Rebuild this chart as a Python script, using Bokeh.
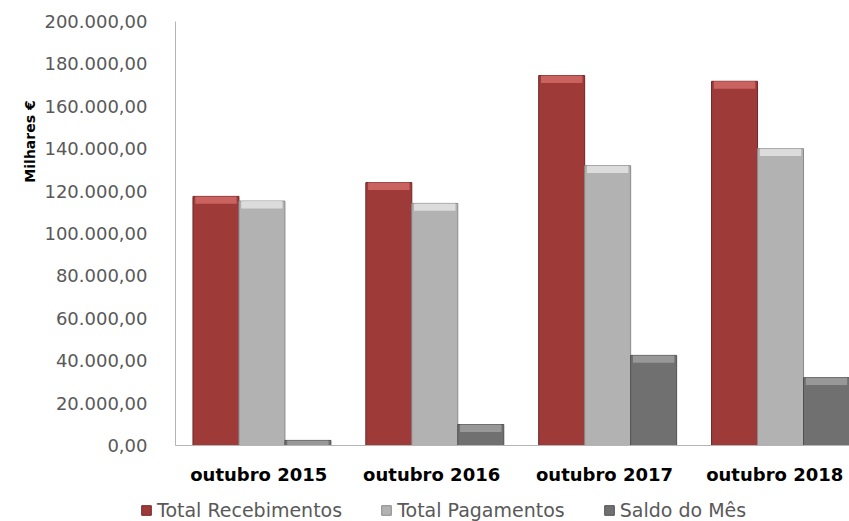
import numpy as np
from bokeh.plotting import figure
from bokeh.models import Range1d, FixedTicker, Legend, LegendItem, Label, ColumnDataSource
from bokeh.embed import file_html
from bokeh.resources import INLINE

# ---- data ----
categories = ["outubro  2015", "outubro  2016", "outubro  2017", "outubro  2018"]
series_names = ["Total Recebimentos", "Total Pagamentos", "Saldo do Mês"]
recebimentos = [117500, 124000, 174500, 171800]
pagamentos = [115300, 114200, 132000, 140000]
saldo = [2400, 9900, 42500, 32000]
y_ticks = [0, 20000, 40000, 60000, 80000, 100000, 120000, 140000, 160000, 180000, 200000]
y_label = "Milhares €"

# ---- layout (pixels) ----
W, H = 849, 521
AX_LEFT, AX_TOP, AX_BOTTOM, AX_RIGHT = 175, 21, 445, 849
Y_MIN, Y_MAX = 0, 200000
X_MIN, X_MAX = -0.5, 3.399

# extend the frame over the whole canvas so labels / legend are not clipped
px_per_x = (AX_RIGHT - AX_LEFT) / (X_MAX - X_MIN)
px_per_y = (AX_BOTTOM - AX_TOP) / (Y_MAX - Y_MIN)
x_start = X_MIN - AX_LEFT / px_per_x
x_end = X_MAX + (W - AX_RIGHT) / px_per_x
y_end = Y_MAX + AX_TOP / px_per_y
y_start = Y_MIN - (H - AX_BOTTOM) / px_per_y

# ---- styles ----
FONT = "DejaVu Sans"
body_colors = ["#9E3B39", "#B2B2B2", "#707070"]
edge_colors = ["#6E2725", "#8A8A8A", "#505050"]
top_colors = ["#D8706E", "#E9E9E9", "#A6A6A6"]
offsets = [-0.266, 0.0, 0.266]
bar_w = 0.266


def fmt_pt(v):
    s = f"{v:,.2f}"
    return s.replace(",", "X").replace(".", ",").replace("X", ".")


p = figure(width=W, height=H, output_backend="svg", toolbar_location=None,
           x_range=Range1d(x_start, x_end), y_range=Range1d(y_start, y_end),
           min_border=0)
p.outline_line_color = None
p.xgrid.grid_line_color = None
p.ygrid.grid_line_color = None
p.background_fill_color = "white"

idx = np.arange(len(categories))
renderers = []
for k, vals in enumerate([recebimentos, pagamentos, saldo]):
    vals = np.array(vals, dtype=float)
    src = ColumnDataSource(dict(x=idx + offsets[k], top=vals,
                                hl=np.maximum(vals - 3500, 0)))
    r = p.vbar(x="x", top="top", bottom=0, width=bar_w, source=src,
               fill_color=body_colors[k], line_color=edge_colors[k], line_width=1)
    p.vbar(x="x", top="top", bottom="hl", width=bar_w * 0.9, source=src,
           fill_color=top_colors[k], fill_alpha=0.75, line_color=None)
    renderers.append(r)

# y axis
p.yaxis.fixed_location = X_MIN
p.yaxis.bounds = (Y_MIN, Y_MAX)
p.yaxis.ticker = FixedTicker(ticks=y_ticks)
p.yaxis.major_label_overrides = {t: fmt_pt(t) for t in y_ticks}
p.yaxis.major_tick_line_color = None
p.yaxis.minor_tick_line_color = None
p.yaxis.axis_line_color = "#B5B5B5"
p.yaxis.major_label_standoff = 22
p.yaxis.major_label_text_font = FONT
p.yaxis.major_label_text_font_size = "18px"
p.yaxis.major_label_text_color = "#595959"

# x axis
p.xaxis.fixed_location = Y_MIN
p.xaxis.bounds = (X_MIN, X_MAX)
p.xaxis.ticker = FixedTicker(ticks=list(idx))
p.xaxis.major_label_overrides = {int(i): c for i, c in zip(idx, categories)}
p.xaxis.major_tick_line_color = None
p.xaxis.minor_tick_line_color = None
p.xaxis.axis_line_color = "#B5B5B5"
p.xaxis.major_label_standoff = 12
p.xaxis.major_label_text_font = FONT
p.xaxis.major_label_text_font_size = "18px"
p.xaxis.major_label_text_font_style = "bold"
p.xaxis.major_label_text_color = "#000000"

# y label
lab = Label(x=29, y=H - 141, x_units="screen", y_units="screen", text=y_label,
            angle=np.pi / 2, text_align="center", text_baseline="middle",
            text_font=FONT, text_font_size="14px", text_font_style="bold",
            text_color="#000000")
p.add_layout(lab)

legend = Legend(items=[LegendItem(label=n, renderers=[r]) for n, r in zip(series_names, renderers)],
                orientation="horizontal", location=(140, 0),
                glyph_width=12, glyph_height=12, label_standoff=5, spacing=38,
                padding=0, margin=0, border_line_color=None, background_fill_alpha=0,
                label_text_font=FONT, label_text_font_size="19px", label_text_color="#595959",
                label_height=20)
p.add_layout(legend)

open("out.html", "w").write(file_html(p, INLINE))
